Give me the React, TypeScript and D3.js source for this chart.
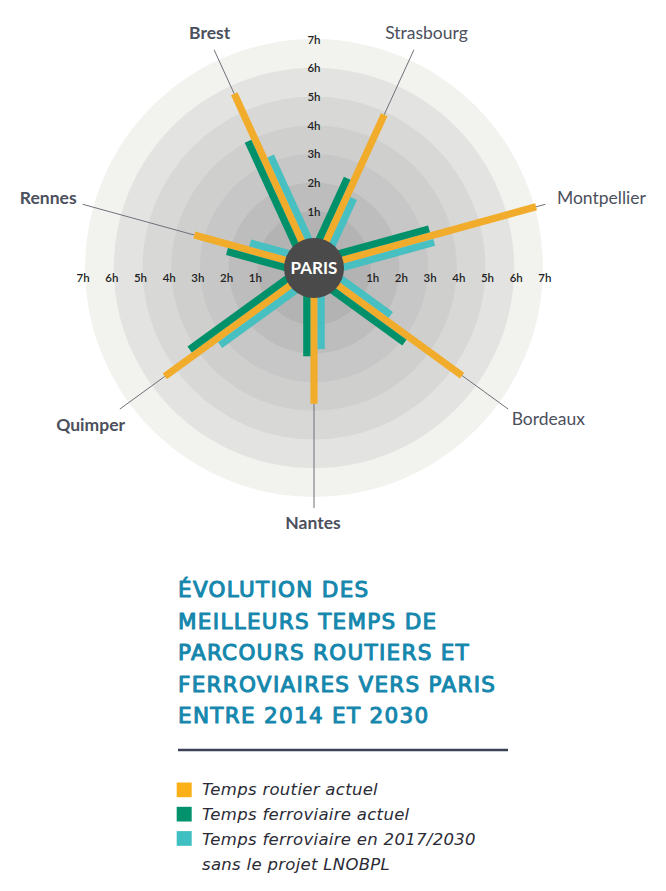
import React from "react";
import * as d3 from "d3";

// ---- data ----
const cities = ["Strasbourg", "Montpellier", "Bordeaux", "Nantes", "Quimper", "Rennes", "Brest"];
const roadHours = [4.9, 7.05, 5.4, 3.75, 5.45, 3.35, 5.7];
const railHours = [2.35, 3.25, 3.1, 2.1, 4.2, 2.1, 4.0];
const railFutureHours = [1.8, 3.3, 2.15, 1.85, 3.25, 1.4, 3.2];
const hourTicks = [1, 2, 3, 4, 5, 6, 7];
const tickLabels = hourTicks.map((h) => `${h}h`);
const boldCities = ["Brest", "Rennes", "Quimper", "Nantes"];
const seriesNames = ["Temps routier actuel", "Temps ferroviaire actuel", "Temps ferroviaire en 2017/2030"];
const legendExtra = "sans le projet LNOBPL";
const titleLines = [
  "ÉVOLUTION DES",
  "MEILLEURS TEMPS DE",
  "PARCOURS ROUTIERS ET",
  "FERROVIAIRES VERS PARIS",
  "ENTRE 2014 ET 2030",
];
const centerLabel = "PARIS";

// ---- layout / style ----
const cityAngles = [24.6, 74.6, 126, 180, 234, 285.4, 335.4]; // compass degrees
const labelLayout = [
  { dx: 12.6, dy: -10.8, anchor: "middle" },
  { dx: 11.6, dy: 0, anchor: "start" },
  { dx: 3.5, dy: 16, anchor: "start" },
  { dx: -1, dy: 21, anchor: "middle" },
  { dx: 5.2, dy: 22, anchor: "end" },
  { dx: -6, dy: 0, anchor: "end" },
  { dx: -4.4, dy: -10.5, anchor: "middle" },
];
const ringColors = ["#b2b3b2", "#bcbdbc", "#c6c7c6", "#cfd0ce", "#d8d9d7", "#e3e4e1", "#f2f2ee"];
const ORANGE = "#f2ac2b";
const GREEN = "#00906a";
const TEAL = "#48bfc0";
const LEG_ORANGE = "#fbb017";
const LEG_GREEN = "#03926c";
const LEG_TEAL = "#3fbfc1";
const FONT = "Lato, 'Open Sans', sans-serif";
const FONT_TITLE = "'DejaVu Sans', 'Open Sans', sans-serif";
const FONT_LEGEND = "'DejaVu Sans', 'Open Sans', sans-serif";

export default function App() {
  const CX = 314;
  const CY = 268;
  const rScale = d3.scaleLinear().domain([0, 7]).range([28, 228.9]);
  const LEADER_R = 240;
  const BAR_W = 7.2;
  const rad = (deg: number) => (deg * Math.PI) / 180;

  const series = [
    { name: seriesNames[0], values: roadHours, color: ORANGE, side: 0 },
    { name: seriesNames[1], values: railHours, color: GREEN, side: -1 },
    { name: seriesNames[2], values: railFutureHours, color: TEAL, side: 1 },
  ];

  const bars: any[] = [];
  cities.forEach((c, i) => {
    const a = rad(cityAngles[i]);
    const ux = Math.sin(a);
    const uy = -Math.cos(a);
    const qx = Math.cos(a);
    const qy = Math.sin(a);
    const s = qx > 1e-6 ? -1 : 1; // green goes to the left side
    series.forEach((se, k) => {
      const off = se.side === 0 ? 0 : se.side === -1 ? s * BAR_W : -s * BAR_W;
      const ox = CX + qx * off;
      const oy = CY + qy * off;
      const r1 = rScale(se.values[i]);
      bars.push({
        key: `${c}-${k}`,
        x1: ox + ux * 5,
        y1: oy + uy * 5,
        x2: ox + ux * r1,
        y2: oy + uy * r1,
        color: se.color,
      });
    });
  });

  const leaders = cities.map((c, i) => {
    const a = rad(cityAngles[i]);
    const ux = Math.sin(a);
    const uy = -Math.cos(a);
    const r0 = rScale(roadHours[i]);
    const ex = CX + ux * LEADER_R;
    const ey = CY + uy * LEADER_R;
    return {
      c,
      x1: CX + ux * r0,
      y1: CY + uy * r0,
      x2: ex,
      y2: ey,
      lx: ex + labelLayout[i].dx,
      ly: ey + labelLayout[i].dy,
      anchor: labelLayout[i].anchor,
      bold: boldCities.includes(c),
    };
  });

  const legendColors = [LEG_ORANGE, LEG_GREEN, LEG_TEAL];

  return (
    <svg
      width={666}
      height={891}
      style={{ position: "absolute", left: 0, top: 0, background: "#ffffff" }}
      fontFamily={FONT}
    >
      <rect x={0} y={0} width={666} height={891} fill="#ffffff" />
      {/* rings */}
      {hourTicks
        .slice()
        .reverse()
        .map((h) => (
          <circle key={`ring-${h}`} cx={CX} cy={CY} r={rScale(h)} fill={ringColors[h - 1]} />
        ))}
      {/* leader lines */}
      {leaders.map((l) => (
        <line key={`lead-${l.c}`} x1={l.x1} y1={l.y1} x2={l.x2} y2={l.y2} stroke="#6d7078" strokeWidth={1} />
      ))}
      {/* bars */}
      {bars.map((b) => (
        <line key={b.key} x1={b.x1} y1={b.y1} x2={b.x2} y2={b.y2} stroke={b.color} strokeWidth={BAR_W} />
      ))}
      {/* tick labels vertical */}
      {hourTicks.map((h, i) => (
        <text
          key={`tv-${h}`}
          x={CX}
          y={CY - rScale(h)}
          textAnchor="middle"
          dominantBaseline="central"
          fontSize={11.5}
          fontWeight={600}
          fill="#1f1f24"
        >
          {tickLabels[i]}
        </text>
      ))}
      {hourTicks.map((h, i) => (
        <text
          key={`tr-${h}`}
          x={CX + rScale(h) + 2}
          y={CY + 9.5}
          textAnchor="middle"
          dominantBaseline="central"
          fontSize={11.5}
          fontWeight={600}
          fill="#1f1f24"
        >
          {tickLabels[i]}
        </text>
      ))}
      {hourTicks.map((h, i) => (
        <text
          key={`tl-${h}`}
          x={CX - rScale(h) - 2}
          y={CY + 9.5}
          textAnchor="middle"
          dominantBaseline="central"
          fontSize={11.5}
          fontWeight={600}
          fill="#1f1f24"
        >
          {tickLabels[i]}
        </text>
      ))}
      {/* center */}
      <circle cx={CX} cy={CY} r={30} fill="#4a4a4a" />
      <text x={CX} y={CY + 6} textAnchor="middle" fontSize={17} fontWeight={700} fill="#ffffff">
        {centerLabel}
      </text>
      {/* city labels */}
      {leaders.map((l) => (
        <text
          key={`lab-${l.c}`}
          x={l.lx}
          y={l.ly}
          textAnchor={l.anchor}
          fontSize={17.5}
          fontWeight={l.bold ? 700 : 400}
          fill="#4c505d"
        >
          {l.c}
        </text>
      ))}
      {/* title */}
      {titleLines.map((t, i) => (
        <text
          key={`title-${i}`}
          x={178}
          y={597 + i * 31.6}
          fontFamily={FONT_TITLE}
          fontSize={21.5}
          fontWeight={400}
          letterSpacing={1.3}
          stroke="#1587ad"
          strokeWidth={1.05}
          strokeLinejoin="round"
          fill="#1587ad"
        >
          {t}
        </text>
      ))}
      <line x1={178} y1={750} x2={508} y2={750} stroke="#3b4256" strokeWidth={2.5} />
      {/* legend */}
      {seriesNames.map((n, i) => (
        <g key={`leg-${i}`}>
          <rect x={176.7} y={782.5 + i * 24.3} width={15} height={14.7} fill={legendColors[i]} />
          <text
            x={202}
            y={795 + i * 25}
            fontFamily={FONT_LEGEND}
            fontSize={16.5}
            fontStyle="italic"
            letterSpacing={0.3}
            fill="#2b2b36"
          >
            {n}
          </text>
        </g>
      ))}
      <text
        x={202}
        y={870}
        fontFamily={FONT_LEGEND}
        fontSize={16.5}
        fontStyle="italic"
        letterSpacing={0.3}
        fill="#2b2b36"
      >
        {legendExtra}
      </text>
    </svg>
  );
}
